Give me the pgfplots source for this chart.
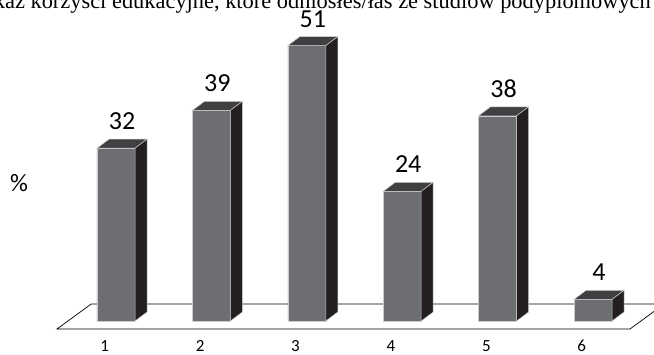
\documentclass[border=0pt]{standalone}
\usepackage{fontspec}
\setmainfont{Carlito}
\newfontfamily\titlefont{Liberation Serif}
\usepackage{pgfplots}
\usepackage{pgfplotstable}
\pgfplotsset{compat=1.18}

\definecolor{barfront}{RGB}{109,110,113}
\definecolor{bartop}{RGB}{64,64,66}
\definecolor{barside}{RGB}{35,31,32}
\definecolor{baredge}{RGB}{205,205,205}

\pgfplotstableread{
cat value
1 32
2 39
3 51
4 24
5 38
6 4
}\bardata

% depth of the pseudo-3D bars, in axis units
\def\bw{0.1992}   % half of the front width
\def\ddx{0.1258}  % horizontal depth
\def\ddy{1.667}   % vertical depth

\pgfplotsset{
  topface/.style={fill=bartop, draw=baredge, line width=0.5pt},
  sideface/.style={fill=barside, draw=baredge, line width=0.5pt},
}

% top and side faces of one bar at category #1 with value #2
\newcommand\barfaces[2]{%
  \pgfmathsetmacro\xl{#1-\bw}%
  \pgfmathsetmacro\xr{#1+\bw}%
  \pgfmathsetmacro\xlb{#1-\bw+\ddx}%
  \pgfmathsetmacro\xrb{#1+\bw+\ddx}%
  \pgfmathsetmacro\yb{#2+\ddy}%
  \edef\doplot{%
    \noexpand\addplot[topface] coordinates {(\xl,#2) (\xr,#2) (\xrb,\yb) (\xlb,\yb)} -- cycle;
    \noexpand\addplot[sideface] coordinates {(\xr,0) (\xrb,\ddy) (\xrb,\yb) (\xr,#2)} -- cycle;
  }\doplot}

\begin{document}
\begin{tikzpicture}
\begin{axis}[
  anchor=south west, at={(20.6pt,22.2pt)},
  x=95.4pt, y=5.4pt,
  xmin=0, xmax=7, ymin=-2, ymax=60,
  clip=false,
  axis line style={draw=none},
  tick style={draw=none},
  ytick=\empty,
  xtick={0.882,1.882,2.882,3.882,4.882,5.882},
  xticklabels={1,2,3,4,5,6},
  xticklabel style={font=\fontsize{17}{17}\selectfont, anchor=base, yshift=-19.9pt},
  /pgf/number format/assume math mode=true,
]
% floor
\addplot[fill=white, draw=black, line width=0.7pt]
  coordinates {(0.3816,-1.48) (6.388,-1.48) (6.746,3.148) (0.740,3.148)} -- cycle;

% front faces with value labels
\addplot[ybar, bar width=38pt, fill=barfront, draw=baredge, line width=0.5pt,
  nodes near coords,
  every node near coord/.append style={font=\fontsize{26}{26}\selectfont,
    anchor=base, xshift=6pt, yshift=18.5pt, text=black}]
  table[x=cat, y=value] {\bardata};

% top and side faces
\pgfplotsinvokeforeach{0,...,5}{%
  \pgfplotstablegetelem{#1}{cat}\of\bardata \let\cx\pgfplotsretval
  \pgfplotstablegetelem{#1}{value}\of\bardata \let\cv\pgfplotsretval
  \barfaces{\cx}{\cv}%
}
\end{axis}

\node[font=\fontsize{25}{25}\selectfont] at (19pt,171pt) {\%};
\node[font=\titlefont\fontsize{22.4}{22.4}\selectfont, anchor=base east, inner sep=0pt]
  at (651pt,345.5pt) {Wskaż korzyści edukacyjne, które odniosłeś/łaś ze studiów podyplomowych};

\pgfresetboundingbox
\path[use as bounding box] (0,0) rectangle (654pt,354pt);
\end{tikzpicture}
\end{document}
